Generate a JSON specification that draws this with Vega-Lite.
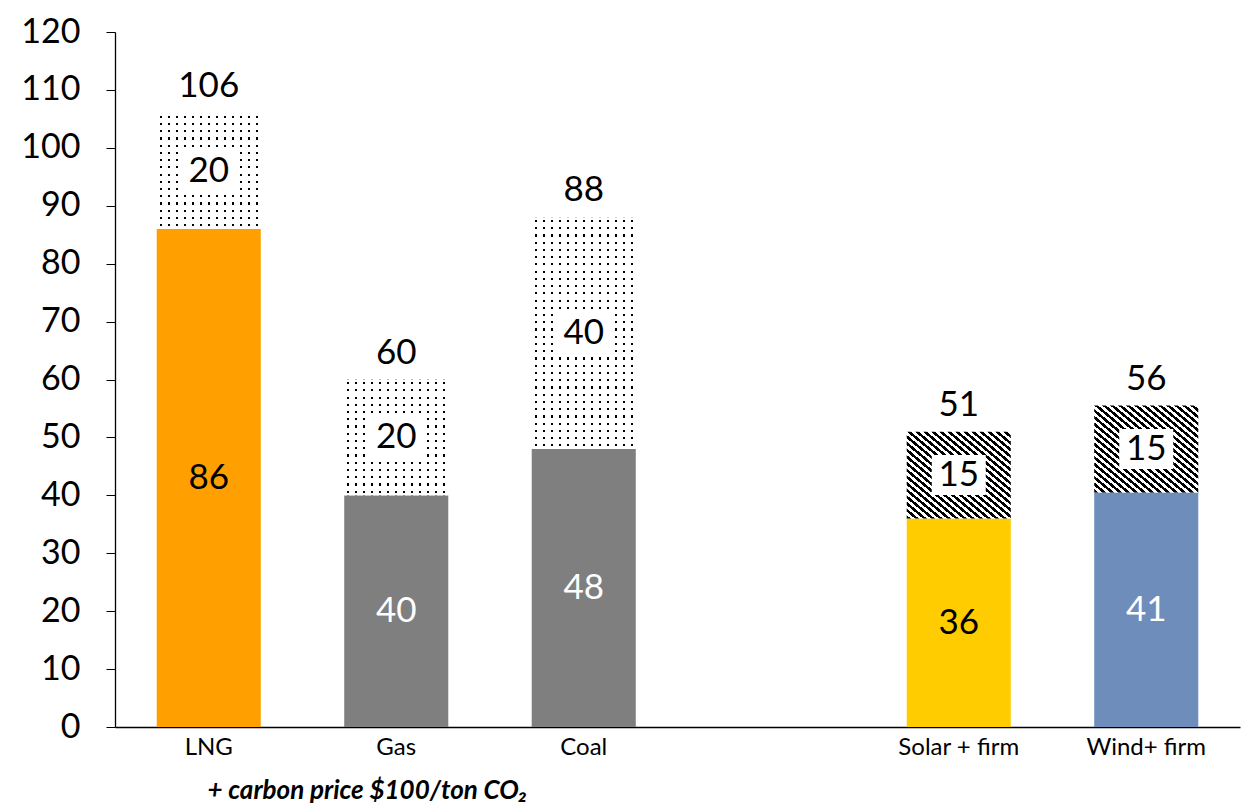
{
  "$schema": "https://vega.github.io/schema/vega-lite/v6.json",
  "width": 1125,
  "height": 695,
  "autosize": "none",
  "padding": {"left": 115, "top": 32, "right": 16, "bottom": 81},
  "background": "white",
  "config": {
    "view": {"stroke": null},
    "font": "Lato",
    "axis": {"labelFont": "Lato", "titleFont": "Lato", "labelColor": "#000000", "domainColor": "#000000", "tickColor": "#000000", "grid": false}
  },
  "data": {
    "values": [
      {"cat": "LNG", "group": "fossil", "base": 86, "add": 20, "total": 106, "baseLabel": "86", "addLabel": "20", "totalLabel": "106"},
      {"cat": "Gas", "group": "fossil", "base": 40, "add": 20, "total": 60, "baseLabel": "40", "addLabel": "20", "totalLabel": "60"},
      {"cat": "Coal", "group": "fossil", "base": 48, "add": 40, "total": 88, "baseLabel": "48", "addLabel": "40", "totalLabel": "88"},
      {"cat": "Solar + firm", "group": "renewable", "base": 36, "add": 15, "total": 51, "baseLabel": "36", "addLabel": "15", "totalLabel": "51"},
      {"cat": "Wind+ firm", "group": "renewable", "base": 40.5, "add": 15, "total": 55.5, "baseLabel": "41", "addLabel": "15", "totalLabel": "56"}
    ]
  },
  "transform": [
    {"calculate": "datum.base / 2", "as": "baseMid"},
    {"calculate": "datum.base + datum.add / 2", "as": "addMid"}
  ],
  "encoding": {
    "x": {
      "field": "cat", "type": "nominal",
      "scale": {"domain": ["LNG", "Gas", "Coal", " ", "Solar + firm", "Wind+ firm"], "paddingInner": 0.445, "paddingOuter": 0.2225},
      "axis": {
        "labelAngle": 0, "labelFontSize": 24, "labelPadding": 8, "ticks": false, "domainWidth": 1.5,
        "title": "+ carbon price $100/ton CO₂", "titleFontSize": 26, "titleFontStyle": "italic", "titleFontWeight": "bold",
        "titleAnchor": "start", "titleAlign": "left", "titleX": 92, "titleY": 71, "titleBaseline": "alphabetic", "titleColor": "#000000"
      }
    }
  },
  "layer": [
    {
      "mark": {"type": "bar"},
      "encoding": {
        "y": {"field": "base", "type": "quantitative", "scale": {"domain": [0, 120], "nice": false},
          "axis": {"title": null, "values": [0, 10, 20, 30, 40, 50, 60, 70, 80, 90, 100, 110, 120], "labelFontSize": 34, "tickSize": 9, "labelPadding": 26, "domainWidth": 1.3}},
        "color": {"field": "cat", "type": "nominal", "legend": null,
          "scale": {"domain": ["LNG", "Gas", "Coal", "Solar + firm", "Wind+ firm"], "range": ["#FFA000", "#7F7F7F", "#7F7F7F", "#FFCC00", "#6F8DBA"]}}
      }
    },
    {
      "transform": [{"filter": "datum.group == 'fossil'"}],
      "mark": {"type": "bar", "stroke": null, "fill": {"gradient": "linear", "x1": 0, "y1": 0, "x2": 1, "y2": 0, "stops": [
        {"offset": 0.0269, "color": "#ffffff"}, {"offset": 0.0269, "color": "#000000"}, {"offset": 0.0462, "color": "#000000"}, {"offset": 0.0462, "color": "#ffffff"},
        {"offset": 0.1038, "color": "#ffffff"}, {"offset": 0.1038, "color": "#000000"}, {"offset": 0.1231, "color": "#000000"}, {"offset": 0.1231, "color": "#ffffff"},
        {"offset": 0.1808, "color": "#ffffff"}, {"offset": 0.1808, "color": "#000000"}, {"offset": 0.2000, "color": "#000000"}, {"offset": 0.2000, "color": "#ffffff"},
        {"offset": 0.2577, "color": "#ffffff"}, {"offset": 0.2577, "color": "#000000"}, {"offset": 0.2769, "color": "#000000"}, {"offset": 0.2769, "color": "#ffffff"},
        {"offset": 0.3346, "color": "#ffffff"}, {"offset": 0.3346, "color": "#000000"}, {"offset": 0.3538, "color": "#000000"}, {"offset": 0.3538, "color": "#ffffff"},
        {"offset": 0.4115, "color": "#ffffff"}, {"offset": 0.4115, "color": "#000000"}, {"offset": 0.4308, "color": "#000000"}, {"offset": 0.4308, "color": "#ffffff"},
        {"offset": 0.4885, "color": "#ffffff"}, {"offset": 0.4885, "color": "#000000"}, {"offset": 0.5077, "color": "#000000"}, {"offset": 0.5077, "color": "#ffffff"},
        {"offset": 0.5654, "color": "#ffffff"}, {"offset": 0.5654, "color": "#000000"}, {"offset": 0.5846, "color": "#000000"}, {"offset": 0.5846, "color": "#ffffff"},
        {"offset": 0.6423, "color": "#ffffff"}, {"offset": 0.6423, "color": "#000000"}, {"offset": 0.6615, "color": "#000000"}, {"offset": 0.6615, "color": "#ffffff"},
        {"offset": 0.7192, "color": "#ffffff"}, {"offset": 0.7192, "color": "#000000"}, {"offset": 0.7385, "color": "#000000"}, {"offset": 0.7385, "color": "#ffffff"},
        {"offset": 0.7962, "color": "#ffffff"}, {"offset": 0.7962, "color": "#000000"}, {"offset": 0.8154, "color": "#000000"}, {"offset": 0.8154, "color": "#ffffff"},
        {"offset": 0.8731, "color": "#ffffff"}, {"offset": 0.8731, "color": "#000000"}, {"offset": 0.8923, "color": "#000000"}, {"offset": 0.8923, "color": "#ffffff"},
        {"offset": 0.9500, "color": "#ffffff"}, {"offset": 0.9500, "color": "#000000"}, {"offset": 0.9692, "color": "#000000"}, {"offset": 0.9692, "color": "#ffffff"}
      ]}},
      "encoding": {"y": {"field": "base", "type": "quantitative"}, "y2": {"field": "total"}}
    },
    {
      "transform": [{"filter": "datum.group == 'fossil' && datum.add == 20"}],
      "mark": {"type": "bar", "stroke": null, "fill": {"gradient": "linear", "x1": 0, "y1": 0, "x2": 0, "y2": 1, "stops": [
        {"offset": 0.0219, "color": "#ffffff"}, {"offset": 0.0219, "color": "rgba(255,255,255,0)"}, {"offset": 0.0406, "color": "rgba(255,255,255,0)"}, {"offset": 0.0406, "color": "#ffffff"},
        {"offset": 0.0844, "color": "#ffffff"}, {"offset": 0.0844, "color": "rgba(255,255,255,0)"}, {"offset": 0.1031, "color": "rgba(255,255,255,0)"}, {"offset": 0.1031, "color": "#ffffff"},
        {"offset": 0.1469, "color": "#ffffff"}, {"offset": 0.1469, "color": "rgba(255,255,255,0)"}, {"offset": 0.1656, "color": "rgba(255,255,255,0)"}, {"offset": 0.1656, "color": "#ffffff"},
        {"offset": 0.2094, "color": "#ffffff"}, {"offset": 0.2094, "color": "rgba(255,255,255,0)"}, {"offset": 0.2281, "color": "rgba(255,255,255,0)"}, {"offset": 0.2281, "color": "#ffffff"},
        {"offset": 0.2719, "color": "#ffffff"}, {"offset": 0.2719, "color": "rgba(255,255,255,0)"}, {"offset": 0.2906, "color": "rgba(255,255,255,0)"}, {"offset": 0.2906, "color": "#ffffff"},
        {"offset": 0.3344, "color": "#ffffff"}, {"offset": 0.3344, "color": "rgba(255,255,255,0)"}, {"offset": 0.3531, "color": "rgba(255,255,255,0)"}, {"offset": 0.3531, "color": "#ffffff"},
        {"offset": 0.3969, "color": "#ffffff"}, {"offset": 0.3969, "color": "rgba(255,255,255,0)"}, {"offset": 0.4156, "color": "rgba(255,255,255,0)"}, {"offset": 0.4156, "color": "#ffffff"},
        {"offset": 0.4594, "color": "#ffffff"}, {"offset": 0.4594, "color": "rgba(255,255,255,0)"}, {"offset": 0.4781, "color": "rgba(255,255,255,0)"}, {"offset": 0.4781, "color": "#ffffff"},
        {"offset": 0.5219, "color": "#ffffff"}, {"offset": 0.5219, "color": "rgba(255,255,255,0)"}, {"offset": 0.5406, "color": "rgba(255,255,255,0)"}, {"offset": 0.5406, "color": "#ffffff"},
        {"offset": 0.5844, "color": "#ffffff"}, {"offset": 0.5844, "color": "rgba(255,255,255,0)"}, {"offset": 0.6031, "color": "rgba(255,255,255,0)"}, {"offset": 0.6031, "color": "#ffffff"},
        {"offset": 0.6469, "color": "#ffffff"}, {"offset": 0.6469, "color": "rgba(255,255,255,0)"}, {"offset": 0.6656, "color": "rgba(255,255,255,0)"}, {"offset": 0.6656, "color": "#ffffff"},
        {"offset": 0.7094, "color": "#ffffff"}, {"offset": 0.7094, "color": "rgba(255,255,255,0)"}, {"offset": 0.7281, "color": "rgba(255,255,255,0)"}, {"offset": 0.7281, "color": "#ffffff"},
        {"offset": 0.7719, "color": "#ffffff"}, {"offset": 0.7719, "color": "rgba(255,255,255,0)"}, {"offset": 0.7906, "color": "rgba(255,255,255,0)"}, {"offset": 0.7906, "color": "#ffffff"},
        {"offset": 0.8344, "color": "#ffffff"}, {"offset": 0.8344, "color": "rgba(255,255,255,0)"}, {"offset": 0.8531, "color": "rgba(255,255,255,0)"}, {"offset": 0.8531, "color": "#ffffff"},
        {"offset": 0.8969, "color": "#ffffff"}, {"offset": 0.8969, "color": "rgba(255,255,255,0)"}, {"offset": 0.9156, "color": "rgba(255,255,255,0)"}, {"offset": 0.9156, "color": "#ffffff"},
        {"offset": 0.9594, "color": "#ffffff"}, {"offset": 0.9594, "color": "rgba(255,255,255,0)"}, {"offset": 0.9781, "color": "rgba(255,255,255,0)"}, {"offset": 0.9781, "color": "#ffffff"}
      ]}},
      "encoding": {"y": {"field": "base", "type": "quantitative"}, "y2": {"field": "total"}}
    },
    {
      "transform": [{"filter": "datum.group == 'fossil' && datum.add == 40"}],
      "mark": {"type": "bar", "stroke": null, "fill": {"gradient": "linear", "x1": 0, "y1": 0, "x2": 0, "y2": 1, "stops": [
        {"offset": 0.0109, "color": "#ffffff"}, {"offset": 0.0109, "color": "rgba(255,255,255,0)"}, {"offset": 0.0203, "color": "rgba(255,255,255,0)"}, {"offset": 0.0203, "color": "#ffffff"},
        {"offset": 0.0422, "color": "#ffffff"}, {"offset": 0.0422, "color": "rgba(255,255,255,0)"}, {"offset": 0.0516, "color": "rgba(255,255,255,0)"}, {"offset": 0.0516, "color": "#ffffff"},
        {"offset": 0.0734, "color": "#ffffff"}, {"offset": 0.0734, "color": "rgba(255,255,255,0)"}, {"offset": 0.0828, "color": "rgba(255,255,255,0)"}, {"offset": 0.0828, "color": "#ffffff"},
        {"offset": 0.1047, "color": "#ffffff"}, {"offset": 0.1047, "color": "rgba(255,255,255,0)"}, {"offset": 0.1141, "color": "rgba(255,255,255,0)"}, {"offset": 0.1141, "color": "#ffffff"},
        {"offset": 0.1359, "color": "#ffffff"}, {"offset": 0.1359, "color": "rgba(255,255,255,0)"}, {"offset": 0.1453, "color": "rgba(255,255,255,0)"}, {"offset": 0.1453, "color": "#ffffff"},
        {"offset": 0.1672, "color": "#ffffff"}, {"offset": 0.1672, "color": "rgba(255,255,255,0)"}, {"offset": 0.1766, "color": "rgba(255,255,255,0)"}, {"offset": 0.1766, "color": "#ffffff"},
        {"offset": 0.1984, "color": "#ffffff"}, {"offset": 0.1984, "color": "rgba(255,255,255,0)"}, {"offset": 0.2078, "color": "rgba(255,255,255,0)"}, {"offset": 0.2078, "color": "#ffffff"},
        {"offset": 0.2297, "color": "#ffffff"}, {"offset": 0.2297, "color": "rgba(255,255,255,0)"}, {"offset": 0.2391, "color": "rgba(255,255,255,0)"}, {"offset": 0.2391, "color": "#ffffff"},
        {"offset": 0.2609, "color": "#ffffff"}, {"offset": 0.2609, "color": "rgba(255,255,255,0)"}, {"offset": 0.2703, "color": "rgba(255,255,255,0)"}, {"offset": 0.2703, "color": "#ffffff"},
        {"offset": 0.2922, "color": "#ffffff"}, {"offset": 0.2922, "color": "rgba(255,255,255,0)"}, {"offset": 0.3016, "color": "rgba(255,255,255,0)"}, {"offset": 0.3016, "color": "#ffffff"},
        {"offset": 0.3234, "color": "#ffffff"}, {"offset": 0.3234, "color": "rgba(255,255,255,0)"}, {"offset": 0.3328, "color": "rgba(255,255,255,0)"}, {"offset": 0.3328, "color": "#ffffff"},
        {"offset": 0.3547, "color": "#ffffff"}, {"offset": 0.3547, "color": "rgba(255,255,255,0)"}, {"offset": 0.3641, "color": "rgba(255,255,255,0)"}, {"offset": 0.3641, "color": "#ffffff"},
        {"offset": 0.3859, "color": "#ffffff"}, {"offset": 0.3859, "color": "rgba(255,255,255,0)"}, {"offset": 0.3953, "color": "rgba(255,255,255,0)"}, {"offset": 0.3953, "color": "#ffffff"},
        {"offset": 0.4172, "color": "#ffffff"}, {"offset": 0.4172, "color": "rgba(255,255,255,0)"}, {"offset": 0.4266, "color": "rgba(255,255,255,0)"}, {"offset": 0.4266, "color": "#ffffff"},
        {"offset": 0.4484, "color": "#ffffff"}, {"offset": 0.4484, "color": "rgba(255,255,255,0)"}, {"offset": 0.4578, "color": "rgba(255,255,255,0)"}, {"offset": 0.4578, "color": "#ffffff"},
        {"offset": 0.4797, "color": "#ffffff"}, {"offset": 0.4797, "color": "rgba(255,255,255,0)"}, {"offset": 0.4891, "color": "rgba(255,255,255,0)"}, {"offset": 0.4891, "color": "#ffffff"},
        {"offset": 0.5109, "color": "#ffffff"}, {"offset": 0.5109, "color": "rgba(255,255,255,0)"}, {"offset": 0.5203, "color": "rgba(255,255,255,0)"}, {"offset": 0.5203, "color": "#ffffff"},
        {"offset": 0.5422, "color": "#ffffff"}, {"offset": 0.5422, "color": "rgba(255,255,255,0)"}, {"offset": 0.5516, "color": "rgba(255,255,255,0)"}, {"offset": 0.5516, "color": "#ffffff"},
        {"offset": 0.5734, "color": "#ffffff"}, {"offset": 0.5734, "color": "rgba(255,255,255,0)"}, {"offset": 0.5828, "color": "rgba(255,255,255,0)"}, {"offset": 0.5828, "color": "#ffffff"},
        {"offset": 0.6047, "color": "#ffffff"}, {"offset": 0.6047, "color": "rgba(255,255,255,0)"}, {"offset": 0.6141, "color": "rgba(255,255,255,0)"}, {"offset": 0.6141, "color": "#ffffff"},
        {"offset": 0.6359, "color": "#ffffff"}, {"offset": 0.6359, "color": "rgba(255,255,255,0)"}, {"offset": 0.6453, "color": "rgba(255,255,255,0)"}, {"offset": 0.6453, "color": "#ffffff"},
        {"offset": 0.6672, "color": "#ffffff"}, {"offset": 0.6672, "color": "rgba(255,255,255,0)"}, {"offset": 0.6766, "color": "rgba(255,255,255,0)"}, {"offset": 0.6766, "color": "#ffffff"},
        {"offset": 0.6984, "color": "#ffffff"}, {"offset": 0.6984, "color": "rgba(255,255,255,0)"}, {"offset": 0.7078, "color": "rgba(255,255,255,0)"}, {"offset": 0.7078, "color": "#ffffff"},
        {"offset": 0.7297, "color": "#ffffff"}, {"offset": 0.7297, "color": "rgba(255,255,255,0)"}, {"offset": 0.7391, "color": "rgba(255,255,255,0)"}, {"offset": 0.7391, "color": "#ffffff"},
        {"offset": 0.7609, "color": "#ffffff"}, {"offset": 0.7609, "color": "rgba(255,255,255,0)"}, {"offset": 0.7703, "color": "rgba(255,255,255,0)"}, {"offset": 0.7703, "color": "#ffffff"},
        {"offset": 0.7922, "color": "#ffffff"}, {"offset": 0.7922, "color": "rgba(255,255,255,0)"}, {"offset": 0.8016, "color": "rgba(255,255,255,0)"}, {"offset": 0.8016, "color": "#ffffff"},
        {"offset": 0.8234, "color": "#ffffff"}, {"offset": 0.8234, "color": "rgba(255,255,255,0)"}, {"offset": 0.8328, "color": "rgba(255,255,255,0)"}, {"offset": 0.8328, "color": "#ffffff"},
        {"offset": 0.8547, "color": "#ffffff"}, {"offset": 0.8547, "color": "rgba(255,255,255,0)"}, {"offset": 0.8641, "color": "rgba(255,255,255,0)"}, {"offset": 0.8641, "color": "#ffffff"},
        {"offset": 0.8859, "color": "#ffffff"}, {"offset": 0.8859, "color": "rgba(255,255,255,0)"}, {"offset": 0.8953, "color": "rgba(255,255,255,0)"}, {"offset": 0.8953, "color": "#ffffff"},
        {"offset": 0.9172, "color": "#ffffff"}, {"offset": 0.9172, "color": "rgba(255,255,255,0)"}, {"offset": 0.9266, "color": "rgba(255,255,255,0)"}, {"offset": 0.9266, "color": "#ffffff"},
        {"offset": 0.9484, "color": "#ffffff"}, {"offset": 0.9484, "color": "rgba(255,255,255,0)"}, {"offset": 0.9578, "color": "rgba(255,255,255,0)"}, {"offset": 0.9578, "color": "#ffffff"},
        {"offset": 0.9797, "color": "#ffffff"}, {"offset": 0.9797, "color": "rgba(255,255,255,0)"}, {"offset": 0.9891, "color": "rgba(255,255,255,0)"}, {"offset": 0.9891, "color": "#ffffff"}
      ]}},
      "encoding": {"y": {"field": "base", "type": "quantitative"}, "y2": {"field": "total"}}
    },
    {
      "transform": [{"filter": "datum.group == 'renewable'"}],
      "mark": {"type": "bar", "stroke": null, "fill": {"gradient": "linear", "x1": 0, "y1": 1, "x2": 1, "y2": 0, "stops": [
        {"offset": 0.0000, "color": "#000000"}, {"offset": 0.0192, "color": "#000000"}, {"offset": 0.0192, "color": "#ffffff"}, {"offset": 0.0385, "color": "#ffffff"},
        {"offset": 0.0385, "color": "#000000"}, {"offset": 0.0577, "color": "#000000"}, {"offset": 0.0577, "color": "#ffffff"}, {"offset": 0.0769, "color": "#ffffff"},
        {"offset": 0.0769, "color": "#000000"}, {"offset": 0.0962, "color": "#000000"}, {"offset": 0.0962, "color": "#ffffff"}, {"offset": 0.1154, "color": "#ffffff"},
        {"offset": 0.1154, "color": "#000000"}, {"offset": 0.1346, "color": "#000000"}, {"offset": 0.1346, "color": "#ffffff"}, {"offset": 0.1538, "color": "#ffffff"},
        {"offset": 0.1538, "color": "#000000"}, {"offset": 0.1731, "color": "#000000"}, {"offset": 0.1731, "color": "#ffffff"}, {"offset": 0.1923, "color": "#ffffff"},
        {"offset": 0.1923, "color": "#000000"}, {"offset": 0.2115, "color": "#000000"}, {"offset": 0.2115, "color": "#ffffff"}, {"offset": 0.2308, "color": "#ffffff"},
        {"offset": 0.2308, "color": "#000000"}, {"offset": 0.2500, "color": "#000000"}, {"offset": 0.2500, "color": "#ffffff"}, {"offset": 0.2692, "color": "#ffffff"},
        {"offset": 0.2692, "color": "#000000"}, {"offset": 0.2885, "color": "#000000"}, {"offset": 0.2885, "color": "#ffffff"}, {"offset": 0.3077, "color": "#ffffff"},
        {"offset": 0.3077, "color": "#000000"}, {"offset": 0.3269, "color": "#000000"}, {"offset": 0.3269, "color": "#ffffff"}, {"offset": 0.3462, "color": "#ffffff"},
        {"offset": 0.3462, "color": "#000000"}, {"offset": 0.3654, "color": "#000000"}, {"offset": 0.3654, "color": "#ffffff"}, {"offset": 0.3846, "color": "#ffffff"},
        {"offset": 0.3846, "color": "#000000"}, {"offset": 0.4038, "color": "#000000"}, {"offset": 0.4038, "color": "#ffffff"}, {"offset": 0.4231, "color": "#ffffff"},
        {"offset": 0.4231, "color": "#000000"}, {"offset": 0.4423, "color": "#000000"}, {"offset": 0.4423, "color": "#ffffff"}, {"offset": 0.4615, "color": "#ffffff"},
        {"offset": 0.4615, "color": "#000000"}, {"offset": 0.4808, "color": "#000000"}, {"offset": 0.4808, "color": "#ffffff"}, {"offset": 0.5000, "color": "#ffffff"},
        {"offset": 0.5000, "color": "#000000"}, {"offset": 0.5192, "color": "#000000"}, {"offset": 0.5192, "color": "#ffffff"}, {"offset": 0.5385, "color": "#ffffff"},
        {"offset": 0.5385, "color": "#000000"}, {"offset": 0.5577, "color": "#000000"}, {"offset": 0.5577, "color": "#ffffff"}, {"offset": 0.5769, "color": "#ffffff"},
        {"offset": 0.5769, "color": "#000000"}, {"offset": 0.5962, "color": "#000000"}, {"offset": 0.5962, "color": "#ffffff"}, {"offset": 0.6154, "color": "#ffffff"},
        {"offset": 0.6154, "color": "#000000"}, {"offset": 0.6346, "color": "#000000"}, {"offset": 0.6346, "color": "#ffffff"}, {"offset": 0.6538, "color": "#ffffff"},
        {"offset": 0.6538, "color": "#000000"}, {"offset": 0.6731, "color": "#000000"}, {"offset": 0.6731, "color": "#ffffff"}, {"offset": 0.6923, "color": "#ffffff"},
        {"offset": 0.6923, "color": "#000000"}, {"offset": 0.7115, "color": "#000000"}, {"offset": 0.7115, "color": "#ffffff"}, {"offset": 0.7308, "color": "#ffffff"},
        {"offset": 0.7308, "color": "#000000"}, {"offset": 0.7500, "color": "#000000"}, {"offset": 0.7500, "color": "#ffffff"}, {"offset": 0.7692, "color": "#ffffff"},
        {"offset": 0.7692, "color": "#000000"}, {"offset": 0.7885, "color": "#000000"}, {"offset": 0.7885, "color": "#ffffff"}, {"offset": 0.8077, "color": "#ffffff"},
        {"offset": 0.8077, "color": "#000000"}, {"offset": 0.8269, "color": "#000000"}, {"offset": 0.8269, "color": "#ffffff"}, {"offset": 0.8462, "color": "#ffffff"},
        {"offset": 0.8462, "color": "#000000"}, {"offset": 0.8654, "color": "#000000"}, {"offset": 0.8654, "color": "#ffffff"}, {"offset": 0.8846, "color": "#ffffff"},
        {"offset": 0.8846, "color": "#000000"}, {"offset": 0.9038, "color": "#000000"}, {"offset": 0.9038, "color": "#ffffff"}, {"offset": 0.9231, "color": "#ffffff"},
        {"offset": 0.9231, "color": "#000000"}, {"offset": 0.9423, "color": "#000000"}, {"offset": 0.9423, "color": "#ffffff"}, {"offset": 0.9615, "color": "#ffffff"},
        {"offset": 0.9615, "color": "#000000"}, {"offset": 0.9808, "color": "#000000"}, {"offset": 0.9808, "color": "#ffffff"}, {"offset": 1.0000, "color": "#ffffff"}
      ]}},
      "encoding": {"y": {"field": "base", "type": "quantitative"}, "y2": {"field": "total"}}
    },
    {
      "mark": {"type": "point", "shape": "M-1,-0.74H1V0.74H-1Z", "filled": true, "fill": "#ffffff", "opacity": 1, "strokeWidth": 0, "size": 2916},
      "encoding": {"y": {"field": "addMid", "type": "quantitative"}}
    },
    {
      "mark": {"type": "text", "fontSize": 35, "font": "Lato", "baseline": "middle", "color": "#000000"},
      "encoding": {"y": {"field": "addMid", "type": "quantitative"}, "text": {"field": "addLabel"}}
    },
    {
      "mark": {"type": "text", "fontSize": 35, "font": "Lato", "baseline": "middle"},
      "encoding": {
        "y": {"field": "baseMid", "type": "quantitative"},
        "text": {"field": "baseLabel"},
        "color": {"condition": {"test": "datum.cat == 'Gas' || datum.cat == 'Coal' || datum.cat == 'Wind+ firm'", "value": "#ffffff"}, "value": "#000000"}
      }
    },
    {
      "mark": {"type": "text", "fontSize": 35, "font": "Lato", "baseline": "middle", "dy": -27, "color": "#000000"},
      "encoding": {"y": {"field": "total", "type": "quantitative"}, "text": {"field": "totalLabel"}}
    }
  ]
}
